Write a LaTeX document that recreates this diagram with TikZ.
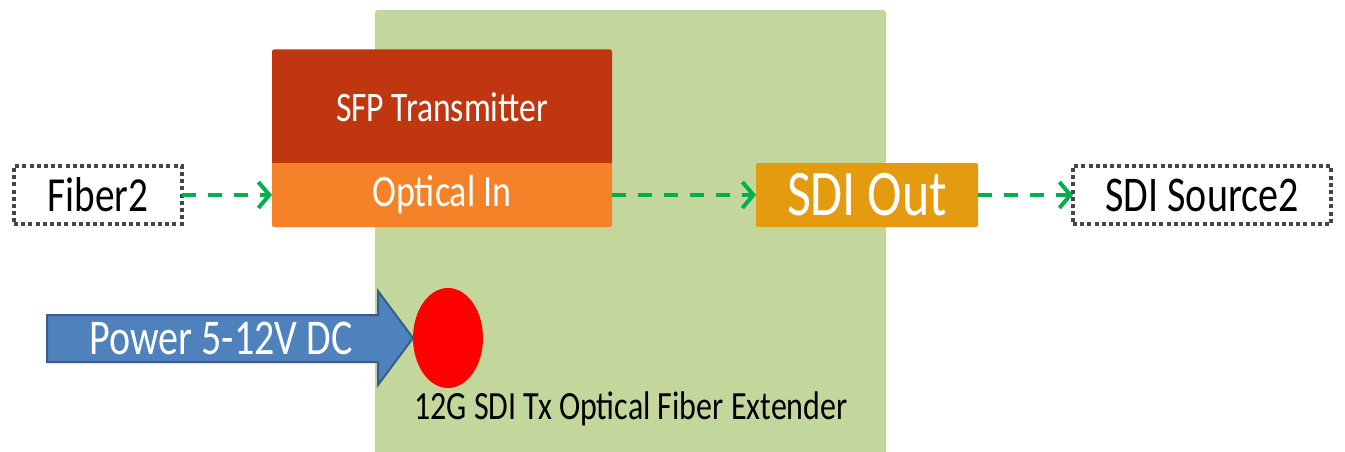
\documentclass[tikz,border=0pt]{standalone}
\usepackage{fontspec}
\setmainfont{Carlito}[FakeStretch=0.8]
\usetikzlibrary{arrows.meta,shapes.geometric}

\definecolor{boardgreen}{RGB}{195,214,155}
\definecolor{sfpred}{RGB}{192,54,16}
\definecolor{optorange}{RGB}{245,130,40}
\definecolor{outorange}{RGB}{228,155,15}
\definecolor{linkgreen}{RGB}{0,176,80}
\definecolor{powerblue}{RGB}{79,129,189}
\definecolor{powerborder}{RGB}{56,93,138}
\definecolor{dotgray}{RGB}{70,70,70}

\newcommand{\fsz}[1]{\fontsize{#1}{#1}\selectfont}

\begin{document}
\begin{tikzpicture}[x=1pt, y=-1pt,
	every node/.style={inner sep=0pt, outer sep=0pt},
	portbox/.style={rounded corners=2pt, text=white},
	dotbox/.style={draw=dotgray, line width=4pt, dash pattern=on 4pt off 3.2pt},
	link/.style={draw=linkgreen, line width=3.5pt, dash pattern=on 14pt off 12pt,
		-{Straight Barb[length=11pt, width=26pt, line width=4pt]}}]
	\useasboundingbox (0,0) rectangle (1345,452);
	% board
	\fill[boardgreen, rounded corners=3pt] (375,470) -- (375,10) -- (886,10) -- (886,470);
	\node (board) at (630.5,231) [minimum width=511pt, minimum height=442pt] {};
	% sfp module
	\node[portbox, fill=sfpred, minimum width=340pt, minimum height=115pt] (sfp) at (442,107) {\fsz{42}SFP Transmitter};
	\node[portbox, fill=optorange, minimum width=340pt, minimum height=64pt] (optin) at (442,195) {\fsz{45}Optical In};
	\node[portbox, fill=outorange, minimum width=222pt, minimum height=64pt] (sdiout) at (867,195) {\fsz{65}SDI Out};
	% outside
	\node[dotbox, minimum width=168pt, minimum height=58pt] (fiber) at (98,195) {\fsz{49}Fiber2};
	\node[dotbox, minimum width=258pt, minimum height=58pt] (source) at (1202,195) {\fsz{50}SDI Source2};
	\draw[link] (fiber.east) -- (optin.west);
	\draw[link] (optin.east) -- (sdiout.west);
	\draw[link] (sdiout.east) -- (source.west);
	% power
	\node[ellipse, fill=red, minimum width=70pt, minimum height=100pt] (led) at (448,338) {};
	\filldraw[fill=powerblue, draw=powerborder, line width=2pt, line join=miter]
		(47,315) -- (378,315) -- (378,291) -- (led.west) -- (378,385) -- (378,362) -- (47,362) -- cycle;
	\node[text=white] (power) at (221,338) {\fsz{50}Power 5-12V DC};
	\node[anchor=base] (caption) at (631,419) {\fsz{40}12G SDI Tx Optical Fiber Extender};
\end{tikzpicture}
\end{document}
